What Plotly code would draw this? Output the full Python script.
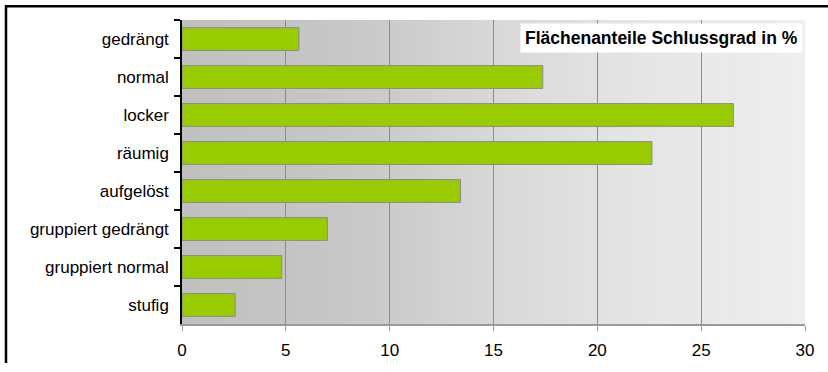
import plotly.graph_objects as go

# Flächenanteile je Schlussgrad (in %)
categories = ["gedrängt", "normal", "locker", "räumig", "aufgelöst",
              "gruppiert gedrängt", "gruppiert normal", "stufig"]
shares = [5.63, 17.37, 26.55, 22.63, 13.41, 7.0, 4.8, 2.56]
x_ticks = [0, 5, 10, 15, 20, 25, 30]
title_text = "Flächenanteile Schlussgrad in %"

W, H = 828, 372
M_L, M_R, M_T, M_B = 182, 23, 20, 40
PW, PH = W - M_L - M_R, H - M_T - M_B

FONT = "Liberation Sans, Arial, sans-serif"

fig = go.Figure()
fig.add_trace(go.Bar(
    y=categories, x=shares, orientation="h",
    marker=dict(color="#99CC00", line=dict(color="#8a8a8a", width=1)),
    hoverinfo="x+y",
))

# horizontal grey gradient behind the grid (thin strips below gridlines)
stops = [(0.0, 192), (0.2, 197), (0.35, 204), (0.5, 216), (0.75, 230), (1.0, 238)]


def shade(t):
    for (t0, c0), (t1, c1) in zip(stops[:-1], stops[1:]):
        if t0 <= t <= t1:
            return c0 + (c1 - c0) * (t - t0) / (t1 - t0)
    return stops[-1][1]


shapes = []
N = 160
for i in range(N):
    v = int(round(shade((i + 0.5) / N)))
    shapes.append(dict(
        type="rect", xref="paper", yref="paper", layer="below",
        x0=i / N, x1=min((i + 1) / N + 0.002, 1.0), y0=0, y1=1,
        fillcolor=f"rgb({v},{v},{v})", line=dict(width=0),
    ))

# outer frame of the chart: left and top edges, kept inside the figure
px_x = lambda p: (p - M_L) / PW
px_y = lambda p: (H - M_B - p) / PH
frame = dict(color="black", width=2.5)
shapes.append(dict(type="line", xref="paper", yref="paper", layer="above",
                   x0=px_x(6), x1=px_x(6), y0=px_y(5), y1=px_y(H), line=frame))
shapes.append(dict(type="line", xref="paper", yref="paper", layer="above",
                   x0=px_x(5), x1=px_x(W), y0=px_y(6), y1=px_y(6), line=frame))

fig.update_layout(
    width=W, height=H,
    margin=dict(l=M_L, r=M_R, t=M_T, b=M_B),
    paper_bgcolor="white", plot_bgcolor="#c0c0c0",
    bargap=0.4, showlegend=False,
    font=dict(family=FONT, size=17, color="black"),
    shapes=shapes,
    xaxis=dict(
        range=[0, 30], tickvals=x_ticks, ticktext=[str(t) for t in x_ticks],
        showgrid=True, gridcolor="#8c8c8c", gridwidth=1, zeroline=False,
        showline=True, linecolor="#9a9a9a", linewidth=2,
        ticks="outside", ticklen=5, tickcolor="#9a9a9a", tickwidth=1,
        ticklabelstandoff=5,
        tickfont=dict(family=FONT, size=17, color="black"),
        fixedrange=True,
    ),
    yaxis=dict(
        type="category", autorange="reversed", tickson="boundaries",
        showgrid=False, zeroline=False,
        showline=True, linecolor="black", linewidth=1.5,
        ticks="outside", ticklen=6, tickcolor="black", tickwidth=1.5,
        ticklabelstandoff=8,
        tickfont=dict(family=FONT, size=17, color="black"),
        fixedrange=True,
    ),
    annotations=[dict(
        xref="paper", yref="paper", x=px_x(803), y=px_y(23),
        xanchor="right", yanchor="top",
        text="<b>" + title_text + "</b>", showarrow=False,
        font=dict(family=FONT, size=17.5, color="black"),
        bgcolor="white", borderpad=4,
    )],
)

fig.write_html("out.html")
